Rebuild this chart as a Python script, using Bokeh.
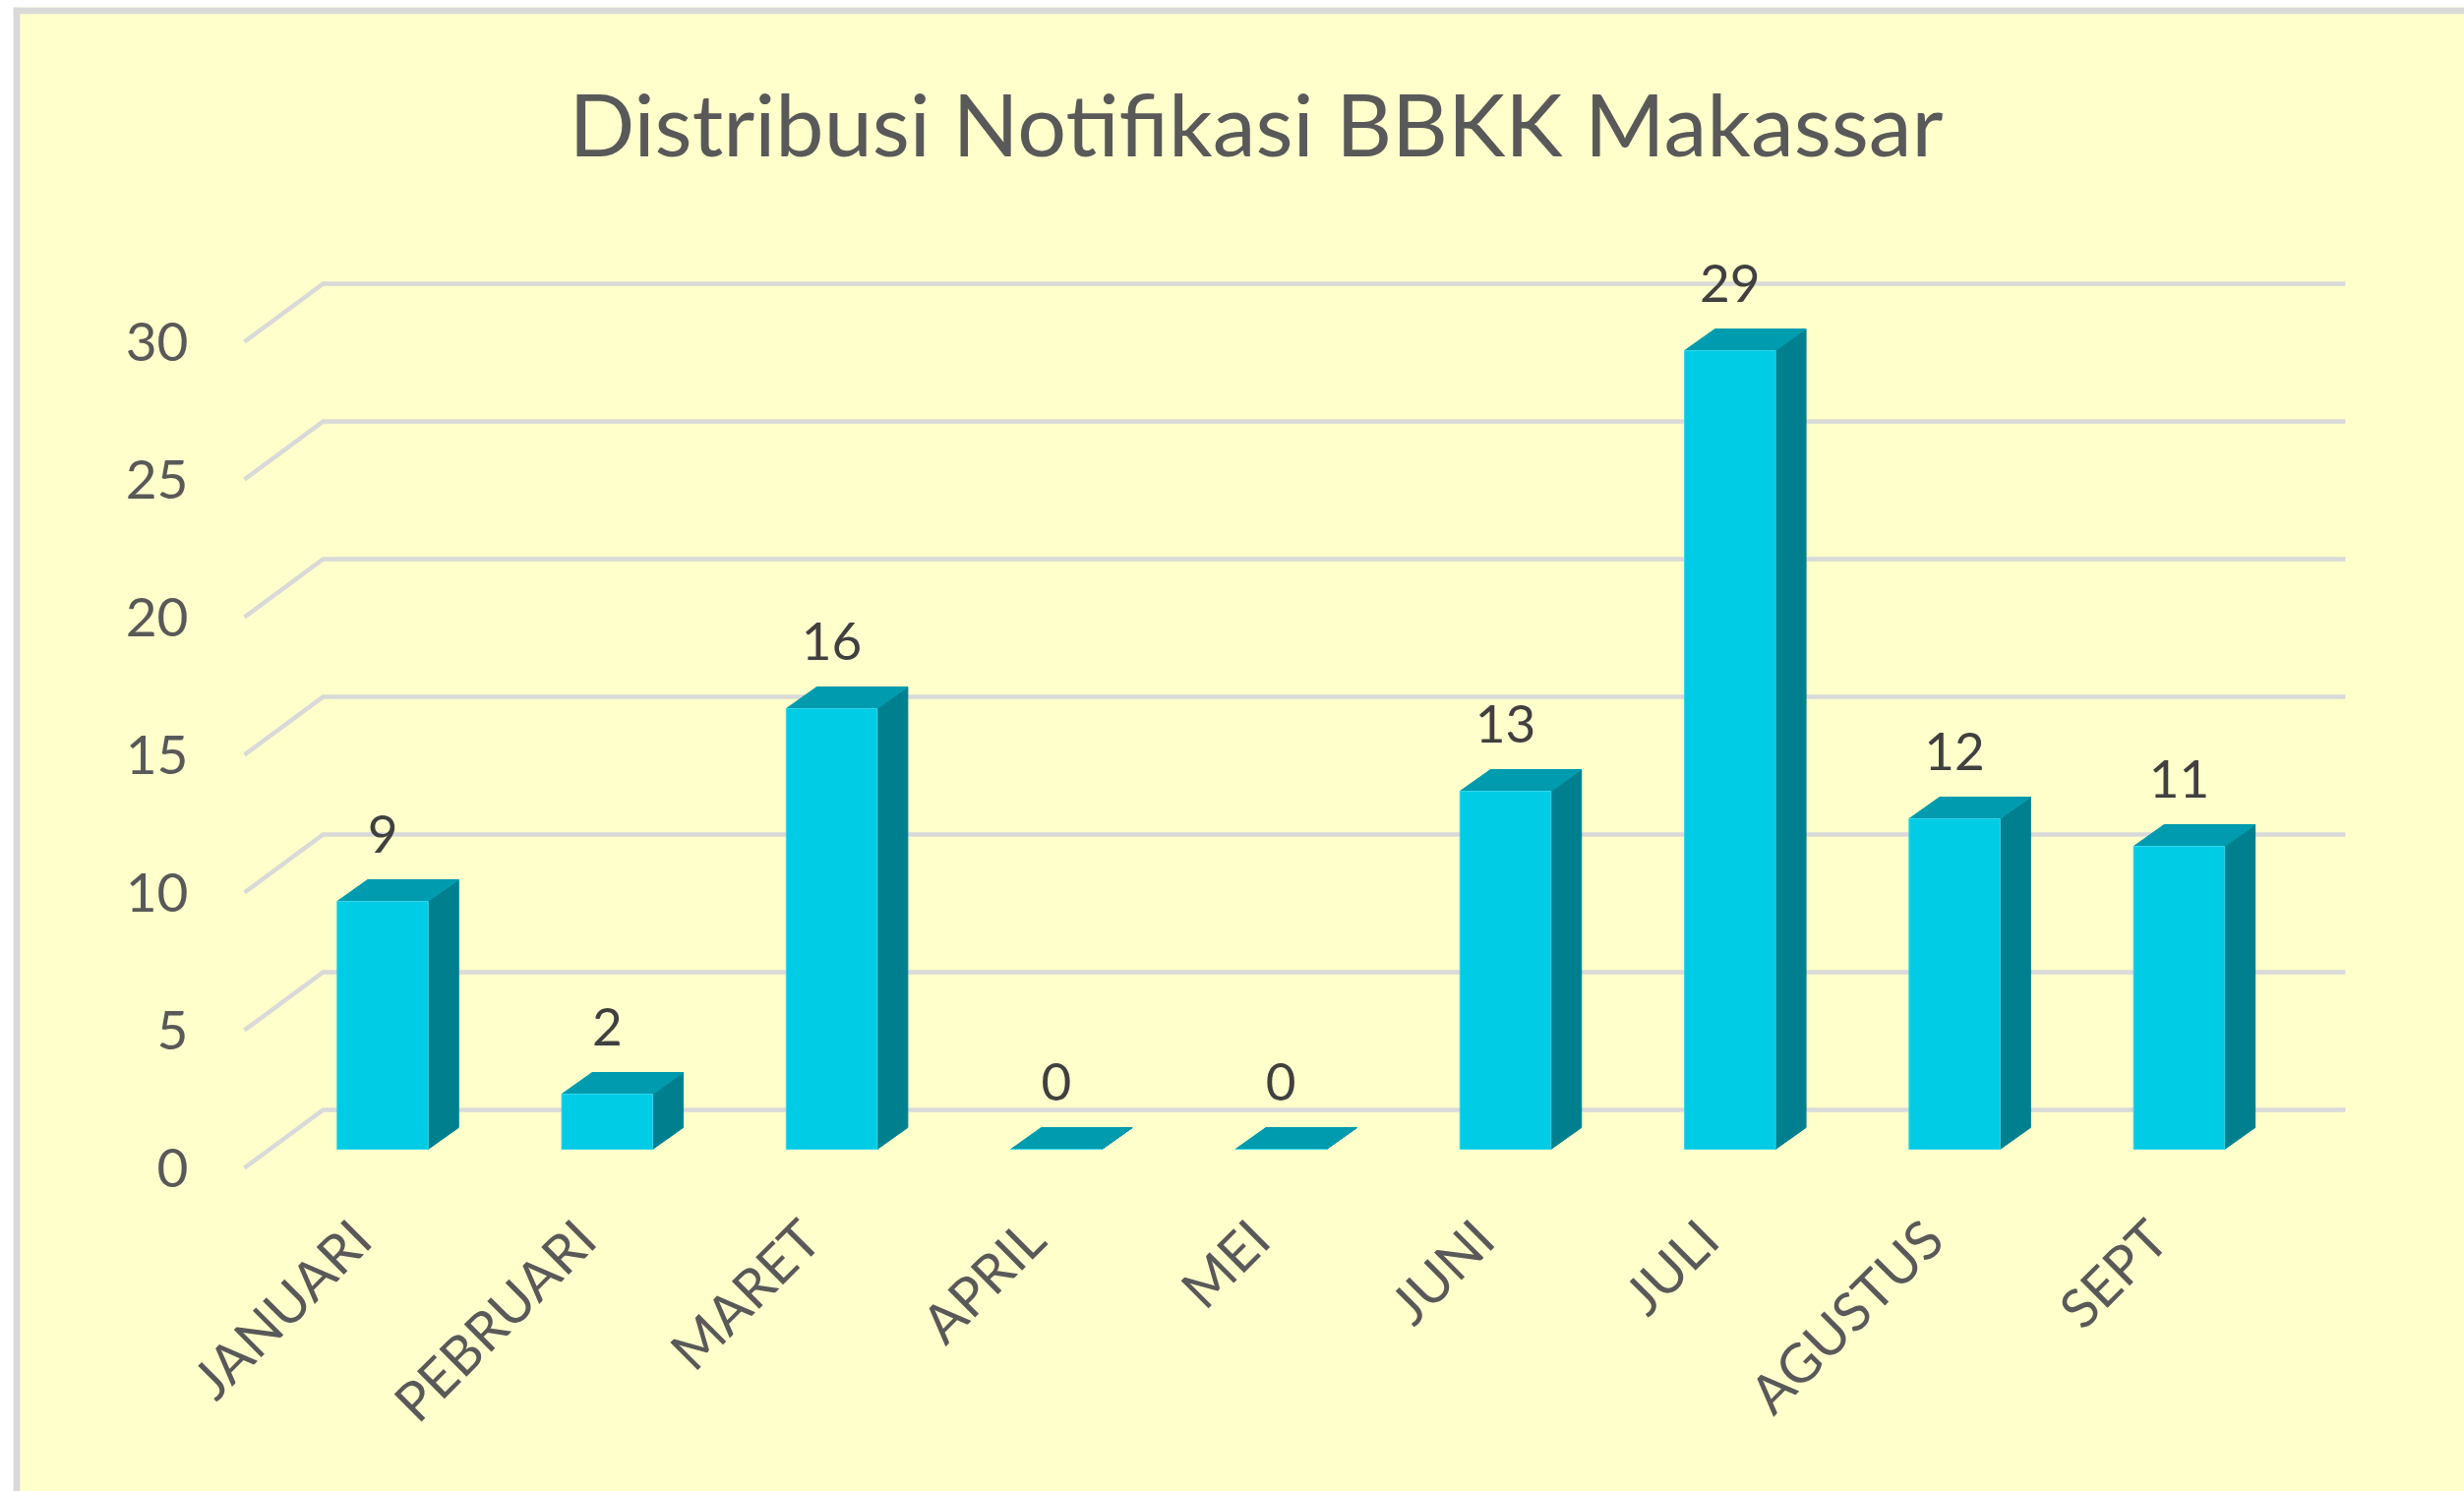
import math
from bokeh.plotting import figure
from bokeh.models import LinearAxis, FixedTicker, Span, Range1d, ColumnDataSource
from bokeh.embed import file_html
from bokeh.resources import INLINE
from bokeh.core.properties import value

# ---- data ----
months = ["JANUARI", "PEBRUARI", "MARET", "APRIL", "MEI", "JUNI", "JULI", "AGUSTUS", "SEPT"]
counts = [9, 2, 16, 0, 0, 13, 29, 12, 11]
y_ticks = [0, 5, 10, 15, 20, 25, 30]
title_text = "Distribusi Notifikasi BBKK Makassar"

# ---- geometry / style ----
W, H = 2505, 1516
LEFT_PAD = 13
TOP_PAD = 7
PX_X = 228.3      # px per category step
PX_Y = 28.0       # px per value unit
X0 = 366.0        # canvas px of first category tick (front plane)
Y0 = 1187.0       # canvas px of value 0 on front plane

BACK_DX = 80 / PX_X
BACK_DY = 59 / PX_Y
BAR_SHIFT = 22.5 / PX_X
BAR_HALF = 46.25 / PX_X
BAR_Y0 = 19 / PX_Y
BAR_DX = 31 / PX_X
BAR_DY = 22 / PX_Y
LABEL_GAP = 69 / PX_Y
X_FRONT_LEFT = (248 - X0) / PX_X
X_BACK_RIGHT = (2384 - X0) / PX_X

BG = "#FFFFCC"
GRID = "#D9D9D9"
FRONT = "#00CCE5"
TOP = "#009BAE"
SIDE = "#00808E"
FONT = "Lato"

x_start = (LEFT_PAD - X0) / PX_X
x_end = (W - X0) / PX_X
y_start = (Y0 - H) / PX_Y
y_end = (Y0 - TOP_PAD) / PX_Y

p = figure(width=W, height=H, output_backend="svg", toolbar_location=None,
           x_range=Range1d(x_start, x_end), y_range=Range1d(y_start, y_end),
           x_axis_type=None, y_axis_type=None,
           min_border_left=LEFT_PAD, min_border_right=0, min_border_top=TOP_PAD, min_border_bottom=0)
p.background_fill_color = BG
p.border_fill_color = "white"
p.outline_line_color = None

# ---- grid lines (front diagonal + back wall) ----
gxs, gys = [], []
for t in y_ticks:
    gxs.append([X_FRONT_LEFT, X_FRONT_LEFT + BACK_DX, X_BACK_RIGHT])
    gys.append([t, t + BACK_DY, t + BACK_DY])
p.multi_line(gxs, gys, line_color=GRID, line_width=4.5, line_join="miter")

# ---- 3D bars ----
front_l, front_r, front_b, front_t = [], [], [], []
top_xs, top_ys, side_xs, side_ys = [], [], [], []
for i, v in enumerate(counts):
    c = i + BAR_SHIFT
    L, R = c - BAR_HALF, c + BAR_HALF
    b, t = BAR_Y0, BAR_Y0 + v
    front_l.append(L); front_r.append(R); front_b.append(b); front_t.append(t)
    top_xs.append([L, R, R + BAR_DX, L + BAR_DX])
    top_ys.append([t, t, t + BAR_DY, t + BAR_DY])
    side_xs.append([R, R + BAR_DX, R + BAR_DX, R])
    side_ys.append([b, b + BAR_DY, t + BAR_DY, t])

p.patches(side_xs, side_ys, fill_color=SIDE, line_color=SIDE, line_width=1)
p.patches(top_xs, top_ys, fill_color=TOP, line_color=TOP, line_width=1)
p.quad(left=front_l, right=front_r, bottom=front_b, top=front_t,
       fill_color=FRONT, line_color="#33D6EA", line_width=1)

# ---- data labels ----
lab = ColumnDataSource(dict(
    x=[i + BAR_SHIFT for i in range(len(counts))],
    y=[BAR_Y0 + v + LABEL_GAP for v in counts],
    t=[str(v) for v in counts]))
p.text(x="x", y="y", text="t", source=lab, text_align="center", text_baseline="middle",
       text_font=value(FONT), text_font_size="53px", text_color="#404040")

# ---- title ----
p.text(x=[(1276.5 - X0) / PX_X], y=[(Y0 - 124) / PX_Y], text=[title_text],
       text_align="center", text_baseline="middle",
       text_font=value(FONT), text_font_size="88px", text_color="#595959")

# ---- axes ----
yax = LinearAxis(fixed_location=X_FRONT_LEFT, ticker=FixedTicker(ticks=y_ticks))
yax.axis_line_color = None
yax.major_tick_line_color = None
yax.minor_tick_line_color = None
yax.major_tick_in = 0
yax.major_tick_out = 0
yax.major_label_standoff = 57
yax.major_label_text_font = FONT
yax.major_label_text_font_size = "55px"
yax.major_label_text_color = "#595959"
p.add_layout(yax, "left")

xax = LinearAxis(fixed_location=0, ticker=FixedTicker(ticks=list(range(len(months)))),
                 major_label_overrides={i: m for i, m in enumerate(months)})
xax.major_label_orientation = math.pi / 4
xax.axis_line_color = None
xax.major_tick_line_color = None
xax.minor_tick_line_color = None
xax.major_tick_in = 0
xax.major_tick_out = 0
xax.major_label_standoff = 62
xax.major_label_text_font = FONT
xax.major_label_text_font_size = "55px"
xax.major_label_text_color = "#595959"
p.add_layout(xax, "below")

# ---- chart frame border (left/top) ----
p.add_layout(Span(location=(16.35 - X0) / PX_X, dimension="height",
                  line_color=GRID, line_width=7))
p.add_layout(Span(location=(Y0 - 10.35) / PX_Y, dimension="width",
                  line_color=GRID, line_width=7))

open("out.html", "w").write(file_html(p, INLINE))
